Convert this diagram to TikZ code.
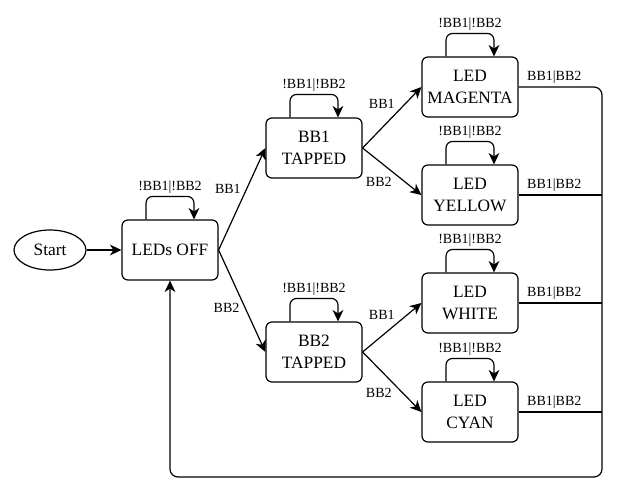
\documentclass[tikz,border=0pt]{standalone}
\usepackage{fontspec}
\setmainfont{Liberation Serif}
\usetikzlibrary{arrows.meta,shapes.geometric}

\begin{document}
\begin{tikzpicture}[x=0.75pt,y=-0.75pt,line width=0.9pt,
        state/.style={draw,rounded corners=4.5pt,minimum width=72pt,minimum height=45pt,
            align=center,font=\fontsize{13}{16.5}\selectfont},
        lbl/.style={font=\fontsize{10.5}{12}\selectfont,inner sep=2pt},
        arr/.style={-{Stealth[length=8.5pt,width=8pt,inset=2.5pt]}}]
        \useasboundingbox (0,0) rectangle (626,504);
        \node[draw,ellipse,minimum width=54pt,minimum height=30pt,inner sep=0pt,
            font=\fontsize{13}{16}\selectfont] (start) at (50,250) {Start};
        \node[state] (off) at (170,250) {LEDs OFF};
        \node[state] (tap1) at (314,148) {BB1\\TAPPED};
        \node[state] (tap2) at (314,352) {BB2\\TAPPED};
        \node[state] (mag) at (470,87) {LED\\MAGENTA};
        \node[state] (yel) at (470,195) {LED\\YELLOW};
        \node[state] (whi) at (470,303) {LED\\WHITE};
        \node[state] (cya) at (470,412) {LED\\CYAN};
        \coordinate (rt) at (602,477);
        % transitions
        \draw[arr] (start) -- (off);
        \draw[arr] (off.east) -- (tap1.west) node[lbl,pos=0.6,left=2pt]{BB1};
        \draw[arr] (off.east) -- (tap2.west) node[lbl,pos=0.57,left=2pt]{BB2};
        \draw[arr] (tap1.east) -- (mag.west) node[lbl,pos=0.6,above left]{BB1};
        \draw[arr] (tap1.east) -- (yel.west) node[lbl,pos=0.55,below left]{BB2};
        \draw[arr] (tap2.east) -- (whi.west) node[lbl,pos=0.6,above left]{BB1};
        \draw[arr] (tap2.east) -- (cya.west) node[lbl,pos=0.55,below left]{BB2};
        % self loops
        \foreach \n in {off, tap1, tap2, mag, yel, whi, cya}
            \draw[arr,rounded corners=5pt] ([xshift=-18pt]\n.north) -- ++(0,-23)
                -| ([xshift=18pt]\n.north) node[lbl,pos=0.25,above]{!BB1|!BB2};
        % back to LEDs OFF
        \draw[arr,rounded corners=6pt] (mag.east) -| (rt) -| (off.south);
        \draw (mag.east) node[lbl,anchor=south west,xshift=4pt]{BB1|BB2};
        \foreach \n in {yel, whi, cya}
            \draw (\n.east) -- (\n.east -| rt) node[lbl,pos=0,anchor=south west,xshift=4pt]{BB1|BB2};
\end{tikzpicture}
\end{document}
